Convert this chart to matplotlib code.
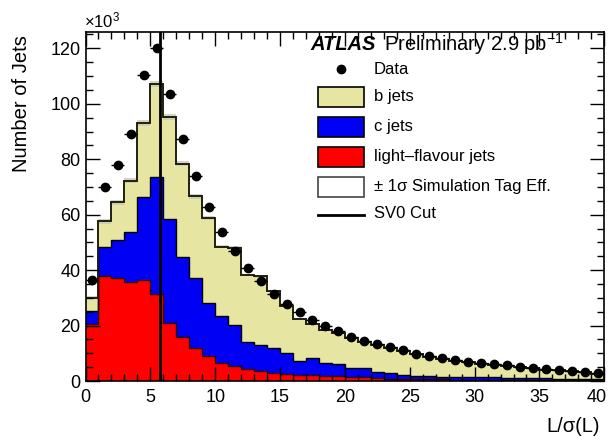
"""Distribución de L/sigma(L) del etiquetador SV0: datos vs simulación apilada"""
import matplotlib
matplotlib.use("Agg")
import matplotlib.pyplot as plt
from matplotlib.patches import Rectangle
from matplotlib.lines import Line2D
import numpy as np

plt.rcParams['font.family'] = ['Liberation Sans', 'DejaVu Sans']
plt.rcParams['mathtext.fontset'] = 'custom'
plt.rcParams['mathtext.rm'] = 'Liberation Sans'
plt.rcParams['mathtext.it'] = 'Liberation Sans:italic'

# Datos (en miles de jets), bins de ancho 1 entre 0 y 40
bordes = np.arange(0, 41)
datos = [36.4, 69.9, 78.0, 89.2, 110.5, 120.0, 103.7, 87.4, 73.9, 62.9,
         53.9, 47.0, 40.9, 35.9, 31.5, 27.7, 24.8, 21.9, 19.9, 18.1,
         15.9, 14.5, 13.3, 12.1, 11.1, 9.9, 9.0, 8.2, 7.5, 7.0,
         6.6, 6.0, 5.7, 5.2, 4.8, 4.2, 3.9, 3.6, 3.4, 2.8]
jets_ligeros = [20.7, 38.0, 37.1, 35.6, 36.4, 31.4, 21.1, 15.7, 12.0, 9.0,
                6.6, 5.4, 4.2, 3.6, 3.0, 2.7, 2.3, 2.1, 1.9, 1.7,
                1.5, 1.4, 1.2, 0.9, 0.8, 0.7, 0.6, 0.6, 0.5, 0.5,
                0.4, 0.4, 0.4, 0.3, 0.3, 0.3, 0.3, 0.2, 0.2, 0.2]
jets_c = [4.6, 10.2, 13.8, 18.0, 29.9, 42.1, 37.4, 28.9, 25.0, 19.3,
          16.7, 14.8, 10.0, 9.4, 8.8, 7.5, 4.9, 6.3, 4.7, 4.6,
          3.3, 3.3, 2.0, 2.0, 1.2, 1.1, 1.1, 1.0, 1.0, 0.9,
          0.9, 0.9, 0.8, 0.8, 0.7, 0.7, 0.6, 0.7, 0.6, 0.5]
jets_b = [4.8, 9.4, 13.5, 18.7, 26.8, 33.5, 36.8, 33.8, 29.6, 30.5,
          25.1, 27.8, 24.0, 24.8, 20.7, 16.9, 15.0, 12.1, 11.9, 11.0,
          10.6, 9.3, 9.7, 8.9, 8.8, 7.9, 7.1, 6.4, 5.8, 5.4,
          5.0, 4.5, 4.3, 3.9, 3.6, 3.1, 2.9, 2.6, 2.5, 2.0]
# +-1 sigma eficiencia de etiquetado en simulación
incert_tag = [0.6, 0.8, 0.8, 0.9, 1.0, 1.1, 1.0, 0.9, 0.8, 0.7,
              0.6, 0.6, 0.5, 0.5, 0.4, 0.4, 0.3, 0.3, 0.3, 0.3,
              0.2, 0.2, 0.2, 0.2, 0.2, 0.2, 0.2, 0.1, 0.1, 0.1,
              0.1, 0.1, 0.1, 0.1, 0.1, 0.1, 0.1, 0.1, 0.1, 0.1]
corte_sv0 = 5.72
etiquetas_x = ["0", "5", "10", "15", "20", "25", "30", "35", "40"]

COLOR_B = "#e6e6a2"
COLOR_C = "#0000f5"
COLOR_L = "#ff0000"

ANCHO, ALTO = 612, 443


def _fig(x, y):
    # Convierte píxeles de la imagen a fracción de figura
    return x / ANCHO, 1 - y / ALTO


figura = plt.figure(figsize=(ANCHO / 100, ALTO / 100), dpi=100)
eje = figura.add_axes([85.5 / ANCHO, 1 - 381 / ALTO,
                       (604.3 - 85.5) / ANCHO, (381 - 31.7) / ALTO])

ligeros = np.array(jets_ligeros)
tope_c = ligeros + np.array(jets_c)
total = tope_c + np.array(jets_b)
incert = np.array(incert_tag)

# Histogramas apilados
eje.stairs(total, bordes, baseline=0, fill=True, color=COLOR_B)
eje.stairs(total + incert, bordes, baseline=total - incert, fill=True,
           color="#c8c8b8", alpha=0.8)
eje.stairs(tope_c, bordes, baseline=0, fill=True, color=COLOR_C)
eje.stairs(ligeros, bordes, baseline=0, fill=True, color=COLOR_L)
eje.stairs(ligeros, bordes, baseline=None, color="#300000", lw=1)
eje.stairs(tope_c, bordes, baseline=None, color="black", lw=1)
eje.stairs(total, bordes, baseline=None, color="#202010", lw=1.4)

# Datos
centros = (bordes[:-1] + bordes[1:]) / 2
eje.errorbar(centros, datos, xerr=0.5, fmt='o', color='black', ms=6,
             elinewidth=1, capsize=0, zorder=5)

# Corte SV0
eje.axvline(corte_sv0, color='black', lw=2, zorder=6)

# Ejes estilo ROOT
eje.set_xlim(0, 40)
eje.set_ylim(0, 126)
eje.set_xticks(np.arange(0, 41, 5))
# la última etiqueta ("40") queda pegada al borde: se dibuja aparte
eje.set_xticklabels(etiquetas_x[:-1] + [""])
eje.set_xticks(np.arange(0, 41, 1), minor=True)
eje.set_yticks(np.arange(0, 121, 20))
eje.set_yticks(np.arange(0, 126, 5), minor=True)
eje.tick_params(which='both', direction='in', top=True, right=True,
                labelsize=13, width=1)
eje.tick_params(which='major', length=10)
eje.tick_params(which='minor', length=5)
eje.tick_params(axis='x', pad=6)
for lado in eje.spines.values():
    lado.set_linewidth(1.2)

figura.text(*_fig(597, 397), etiquetas_x[-1], fontsize=13, ha='center',
            va='center')
figura.text(*_fig(22, 104), "Number of Jets", rotation=90, fontsize=14.5,
            ha='center', va='center')
figura.text(*_fig(600, 426), "L/σ(L)", fontsize=14.5, ha='right',
            va='center')
figura.text(*_fig(84, 27), r"$\times$10$^{3}$", fontsize=12, ha='left',
            va='baseline')

# Rótulo ATLAS
figura.text(*_fig(310, 44), "ATLAS", fontsize=14.5, fontweight='bold',
            fontstyle='italic', ha='left', va='center')
figura.text(*_fig(384, 44), "Preliminary 2.9 pb$^{-1}$", fontsize=14.5,
            ha='left', va='center')

# Leyenda manual
X_TEXTO = 374
figura.add_artist(Line2D([_fig(340.5, 0)[0]], [_fig(0, 69)[1]], marker='o',
                         color='black', ms=6, transform=figura.transFigure))
figura.text(*_fig(X_TEXTO, 69), "Data", fontsize=12, va='center')

cajas = [(97, COLOR_B, "b jets"), (127, COLOR_C, "c jets"),
         (157, COLOR_L, "light\u2013flavour jets"),
         (187, "white", "\u00b1 1\u03c3 Simulation Tag Eff.")]
for y_c, color, texto in cajas:
    x0, y0 = _fig(318, y_c + 10)
    figura.add_artist(Rectangle((x0, y0), 46 / ANCHO, 20 / ALTO,
                                facecolor=color,
                                edgecolor='#444444' if color == "white" else 'black',
                                lw=1.2, transform=figura.transFigure))
    figura.text(*_fig(X_TEXTO, y_c), texto, fontsize=12, va='center')

xa, ya = _fig(318, 215)
xb, _ = _fig(364, 215)
figura.add_artist(Line2D([xa, xb], [ya, ya], color='black', lw=2,
                         transform=figura.transFigure))
figura.text(*_fig(X_TEXTO, 214), "SV0 Cut", fontsize=12, va='center')

figura.savefig("out.png", dpi=100)
plt.close(figura)
